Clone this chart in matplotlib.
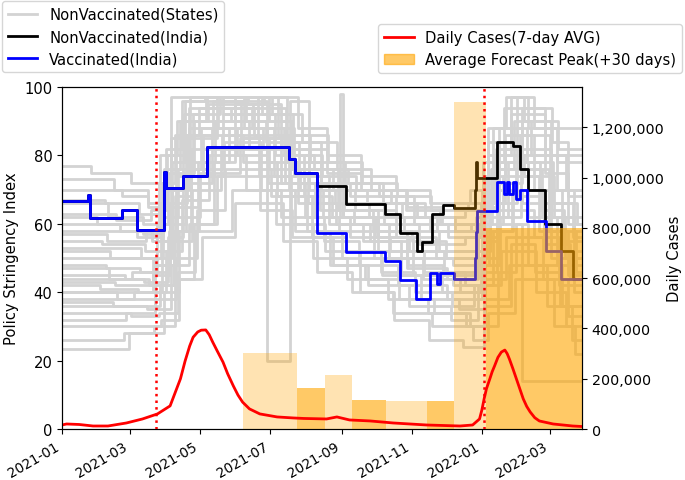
"""Policy stringency (states vs India) against daily cases and forecast peaks."""

import matplotlib

matplotlib.use("Agg")
import matplotlib.dates as mdates
import matplotlib.pyplot as plt
import numpy as np
import pandas as pd
from matplotlib.lines import Line2D
from matplotlib.patches import Patch
from matplotlib.ticker import FuncFormatter

START = pd.Timestamp("2021-01-01")
END_DAY = 452  # last day shown (days since START)

# India stringency index, step breakpoints (day offset, value)
nonvacc_days = [0, 23, 24, 52, 65, 89, 90, 105, 126, 197, 203, 222, 247, 281, 294,
                309, 313, 322, 331, 341, 359, 360, 361, 362, 378, 392, 398, 405,
                420, 434, 444]
nonvacc_vals = [66.8, 68.5, 61.7, 64.0, 58.3, 75.1, 70.5, 74.0, 82.4, 79.0, 74.9,
                71.2, 65.7, 62.9, 57.4, 52.0, 54.7, 62.9, 65.5, 64.6, 70.0, 78.0,
                73.4, 73.4, 83.9, 82.7, 76.0, 69.9, 60.0, 52.0, 44.0]

vacc_days = [0, 23, 24, 52, 65, 89, 90, 105, 126, 197, 203, 222, 247, 281, 294,
             308, 320, 326, 329, 341, 359, 360, 361, 362, 378, 384, 387, 389, 392,
             395, 398, 404, 421, 434]
vacc_vals = [66.8, 68.5, 61.7, 64.0, 58.3, 75.1, 70.5, 74.0, 82.4, 79.0, 74.9,
             57.3, 51.8, 49.1, 43.6, 38.0, 45.6, 42.4, 45.6, 43.9, 50.0, 57.6,
             63.7, 63.7, 72.2, 68.7, 72.2, 68.7, 72.2, 67.3, 70.0, 60.8, 52.0, 44.0]

# state-level (non vaccinated) stringency, step breakpoints (day, value)
states = [
    [(0, 77), (25, 75), (60, 72), (85, 80), (100, 90), (125, 97), (180, 90), (200, 82), (230, 75), (260, 70), (300, 65), (330, 60), (365, 70), (375, 88), (400, 80), (430, 70)],
    [(0, 73), (45, 70), (75, 65), (95, 85), (110, 94), (170, 85), (195, 78), (225, 72), (250, 68), (290, 62), (320, 58), (360, 62), (370, 80), (390, 92), (420, 75), (440, 60)],
    [(0, 66), (40, 62), (70, 60), (92, 75), (115, 90), (150, 95), (190, 82), (215, 70), (245, 66), (280, 60), (310, 54), (350, 56), (368, 74), (385, 86), (410, 70), (435, 55)],
    [(0, 62), (30, 60), (65, 56), (88, 70), (105, 85), (135, 97), (160, 90), (200, 76), (240, 64), (270, 58), (300, 50), (340, 48), (366, 65), (380, 78), (405, 62), (430, 48)],
    [(0, 60), (50, 58), (78, 55), (98, 68), (112, 82), (140, 92), (185, 80), (210, 68), (235, 62), (275, 56), (305, 52), (345, 52), (365, 60), (383, 74), (415, 58), (440, 45)],
    [(0, 55), (35, 54), (72, 52), (96, 65), (118, 78), (145, 88), (178, 78), (205, 66), (238, 60), (268, 55), (300, 47), (335, 44), (362, 56), (378, 70), (400, 66), (425, 50)],
    [(0, 52), (42, 50), (80, 48), (100, 62), (120, 75), (155, 85), (190, 72), (220, 62), (250, 56), (285, 52), (315, 46), (350, 42), (368, 58), (392, 68), (420, 52), (445, 40)],
    [(0, 48), (38, 47), (68, 46), (93, 58), (108, 72), (130, 88), (165, 94), (195, 84), (225, 70), (255, 64), (290, 56), (325, 50), (362, 52), (372, 66), (396, 82), (425, 62), (445, 50)],
    [(0, 45), (55, 44), (76, 42), (97, 55), (113, 70), (138, 82), (175, 88), (202, 74), (232, 60), (262, 55), (295, 45), (330, 40), (364, 50), (380, 64), (410, 56), (432, 42)],
    [(0, 42), (33, 41), (66, 40), (90, 52), (104, 67), (128, 80), (160, 70), (190, 62), (228, 55), (258, 48), (292, 42), (335, 38), (365, 46), (378, 60), (405, 48), (435, 36)],
    [(0, 40), (48, 38), (82, 38), (99, 50), (117, 64), (142, 76), (182, 68), (213, 58), (243, 50), (278, 45), (312, 38), (345, 35), (368, 44), (386, 56), (418, 44), (440, 33)],
    [(0, 37), (44, 36), (74, 35), (95, 48), (110, 60), (135, 74), (172, 64), (200, 56), (236, 48), (266, 42), (302, 36), (338, 32), (362, 42), (382, 52), (412, 40), (438, 30)],
    [(0, 34), (60, 33), (84, 34), (101, 46), (116, 58), (148, 70), (186, 60), (218, 50), (248, 44), (283, 38), (318, 34), (355, 30), (367, 38), (389, 48), (422, 36), (443, 26)],
    [(0, 30), (52, 30), (86, 32), (102, 44), (122, 56), (150, 66), (192, 55), (222, 46), (252, 40), (288, 34), (322, 30), (357, 26), (370, 34), (394, 44), (428, 30), (446, 22)],
    [(0, 23.5), (58, 28), (80, 30), (98, 44), (115, 60), (132, 78), (150, 96), (178, 20), (198, 96), (215, 72), (245, 64), (275, 52), (305, 45), (340, 42), (365, 55), (380, 72), (400, 90), (425, 70), (445, 58)],
    [(0, 58), (70, 57), (84, 72), (95, 97), (140, 92), (170, 97), (205, 88), (230, 80), (260, 74), (290, 70), (320, 66), (355, 70), (370, 84), (390, 97), (410, 88), (430, 78)],
    [(0, 50), (64, 50), (86, 66), (99, 82), (111, 97), (150, 95), (176, 97), (196, 80), (226, 74), (256, 70), (286, 66), (316, 62), (350, 64), (366, 78), (384, 94), (420, 80), (440, 68)],
    [(0, 44), (61, 46), (83, 60), (96, 78), (107, 96), (162, 97), (188, 86), (216, 78), (246, 72), (276, 68), (306, 60), (336, 56), (364, 66), (376, 80), (402, 74), (428, 62)],
    [(0, 38), (63, 40), (87, 55), (100, 74), (114, 92), (137, 97), (158, 88), (184, 74), (214, 66), (244, 62), (274, 58), (304, 55), (334, 50), (362, 60), (374, 76), (398, 86), (424, 66), (444, 56)],
    [(0, 32), (56, 34), (81, 48), (94, 66), (109, 86), (131, 96), (156, 85), (180, 76), (207, 70), (237, 66), (267, 62), (297, 58), (328, 52), (360, 48), (371, 62), (388, 78), (416, 64), (436, 52)],
    [(0, 63), (47, 61), (77, 64), (91, 80), (106, 92), (126, 97), (153, 97), (183, 92), (209, 84), (239, 76), (269, 70), (299, 64), (329, 60), (363, 60), (373, 76), (393, 90), (408, 80), (438, 70)],
    [(0, 57), (39, 55), (73, 58), (89, 76), (103, 90), (127, 95), (166, 88), (193, 80), (219, 76), (249, 72), (279, 66), (309, 62), (342, 58), (361, 64), (377, 82), (400, 94), (426, 84), (440, 80)],
    [(0, 53), (36, 53), (69, 50), (88, 62), (101, 76), (121, 88), (152, 80), (179, 72), (211, 62), (241, 58), (271, 50), (301, 48), (331, 45), (359, 50), (369, 66), (385, 82), (396, 97), (405, 88)],
    [(0, 47), (41, 44), (71, 43), (92, 56), (105, 74), (123, 86), (157, 78), (187, 68), (217, 56), (247, 52), (277, 46), (307, 40), (339, 36), (358, 42), (375, 58), (391, 70), (419, 54), (442, 44)],
    [(0, 43), (46, 42), (79, 45), (94, 60), (108, 78), (133, 90), (163, 82), (194, 72), (224, 64), (254, 60), (284, 50), (314, 44), (346, 40), (366, 48), (381, 62), (399, 76), (423, 58), (447, 46)],
    [(0, 36), (57, 36), (85, 42), (97, 58), (112, 76), (139, 86), (171, 74), (199, 60), (229, 52), (259, 40), (289, 32), (319, 26), (349, 24), (367, 30), (379, 46), (395, 60), (400, 14)],
    [(0, 70), (52, 68), (75, 66), (90, 82), (104, 96), (124, 97), (174, 92), (201, 86), (231, 78), (261, 72), (291, 68), (321, 64), (353, 66), (370, 88), (386, 97), (402, 90), (431, 82)],
    [(0, 67), (37, 66), (67, 63), (87, 72), (98, 86), (119, 94), (147, 90), (177, 84), (206, 76), (236, 70), (265, 66), (296, 62), (326, 58), (356, 60), (366, 72), (380, 88), (404, 78), (427, 66), (448, 60)],
    [(0, 40), (50, 40), (79, 50), (96, 70), (110, 88), (136, 94), (167, 86), (197, 70), (227, 62), (242, 98), (244, 62), (272, 56), (302, 52), (332, 46), (360, 52), (372, 70), (395, 76), (417, 62), (437, 50)],
    [(0, 26), (54, 28), (89, 40), (102, 58), (119, 74), (141, 84), (173, 70), (203, 58), (233, 48), (263, 44), (293, 38), (323, 34), (351, 30), (368, 36), (390, 54), (411, 46), (433, 36)],
]

# daily cases, 7-day average (day offset, cases)
cases_days = [0, 4, 15, 27, 40, 56, 70, 83, 94, 98, 103, 107, 111, 114, 118, 121,
              125, 128, 131, 135, 140, 144, 149, 153, 157, 163, 172, 187, 201, 210,
              230, 239, 250, 268, 288, 317, 346, 357, 363, 365, 367, 369, 372, 374,
              376, 379, 382, 385, 387, 389, 392, 395, 398, 401, 404, 407, 411, 415,
              427, 444, 452]
cases_vals = [16e3, 20e3, 18e3, 12e3, 12e3, 24e3, 40e3, 60e3, 92e3, 140e3, 200e3,
              270e3, 330e3, 365e3, 386e3, 393e3, 394e3, 375e3, 346e3, 310e3, 266e3,
              220e3, 171e3, 135e3, 107e3, 80e3, 60e3, 48e3, 44e3, 42e3, 40e3, 48e3,
              36e3, 32e3, 24e3, 16e3, 12e3, 16e3, 40e3, 75e3, 120e3, 160e3, 200e3,
              228e3, 250e3, 285e3, 306e3, 314e3, 300e3, 278e3, 240e3, 200e3, 160e3,
              120e3, 90e3, 68e3, 45e3, 32e3, 20e3, 12e3, 10e3]

# average forecast peak (+30 days) windows
peak_start = [157, 204, 228.5, 252, 281.5, 317, 340.6, 369]
peak_end = [204, 228.5, 252, 281.5, 317, 340.6, 369, 460]
peak_vals = [302e3, 163e3, 215e3, 115e3, 111e3, 111e3, 1300e3, 800e3]
peak_alpha = [0.3, 0.6, 0.3, 0.6, 0.3, 0.6, 0.3, 0.6]

# dates marked with vertical lines
marker_days = [82, 367]


def to_num(days):
    return mdates.date2num(START + pd.to_timedelta(np.asarray(days, dtype=float), unit="D"))


def step_line(ax, days, vals, **kw):
    d = list(days) + [END_DAY]
    v = list(vals) + [vals[-1]]
    ax.plot(to_num(d), v, drawstyle="steps-post", **kw)


plt.rcParams["font.size"] = 10.6

fig = plt.figure(figsize=(6.85, 4.81), dpi=100)
ax = fig.add_axes([0.0905, 0.106, 0.759, 0.711])
ax2 = ax.twinx()

for s in states:
    d, v = zip(*s)
    step_line(ax, d, v, color="lightgray", lw=2)
step_line(ax, nonvacc_days, nonvacc_vals, color="black", lw=2)
step_line(ax, vacc_days, vacc_vals, color="blue", lw=2)

x0 = to_num(peak_start)
x1 = to_num(peak_end)
for a, b, h, al in zip(x0, x1, peak_vals, peak_alpha):
    ax2.bar(a, h, width=b - a, align="edge", color="orange", alpha=al, lw=0)
ax2.plot(to_num(cases_days), cases_vals, color="red", lw=2)
for d in marker_days:
    ax2.axvline(to_num([d])[0], color="red", ls=":", lw=1.8)

ax.set_xlim(to_num([0])[0], to_num([END_DAY])[0])
ax.set_ylim(0, 100)
ax2.set_ylim(0, 1.36e6)
ax.set_ylabel("Policy Stringency Index")
ax2.set_ylabel("Daily Cases", labelpad=2)
ax2.tick_params(axis="y", labelsize=10.3)
ax2.yaxis.set_major_formatter(FuncFormatter(lambda v, p: f"{int(v):,}"))
ax.xaxis.set_major_locator(mdates.MonthLocator(bymonth=[1, 3, 5, 7, 9, 11]))
ax.xaxis.set_major_formatter(mdates.DateFormatter("%Y-%m"))
ax.tick_params(axis="x", labelsize=9.8)
for lab in ax.get_xticklabels():
    lab.set_rotation(30)
    lab.set_ha("right")

left_handles = [
    Line2D([], [], color="lightgray", lw=2, label="NonVaccinated(States)"),
    Line2D([], [], color="black", lw=2, label="NonVaccinated(India)"),
    Line2D([], [], color="blue", lw=2, label="Vaccinated(India)"),
]
right_handles = [
    Line2D([], [], color="red", lw=2, label="Daily Cases(7-day AVG)"),
    Patch(color="orange", alpha=0.6, label="Average Forecast Peak(+30 days)"),
]
fig.legend(handles=left_handles, loc="upper left", bbox_to_anchor=(0.003, 0.996),
           borderaxespad=0)
fig.legend(handles=right_handles, loc="upper right", bbox_to_anchor=(0.996, 0.948),
           borderaxespad=0)

fig.savefig("out.png", dpi=100)
